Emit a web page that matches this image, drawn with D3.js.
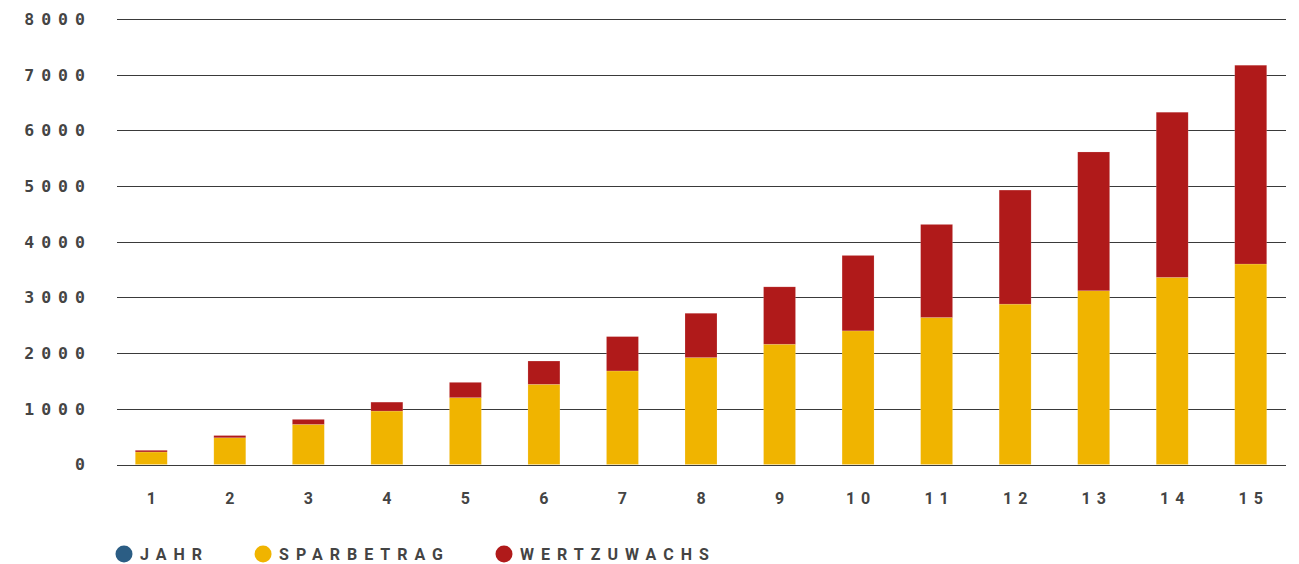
<!DOCTYPE html>
<html>
<head>
<meta charset="utf-8">
<script src="https://d3js.org/d3.v7.min.js"></script>
<style>
  body { margin: 0; background: #fff; }
</style>
</head>
<body>
<svg id="chart" width="1299" height="564"></svg>
<script>
// values
var years = ["1","2","3","4","5","6","7","8","9","10","11","12","13","14","15"];
var sparbetrag = [225, 480, 720, 960, 1200, 1440, 1680, 1920, 2160, 2400, 2640, 2880, 3120, 3360, 3600];
var wertzuwachs = [30, 40, 90, 160, 275, 418, 617, 796, 1030, 1354, 1671, 2048, 2492, 2966, 3570];
var yTicks = [0, 1000, 2000, 3000, 4000, 5000, 6000, 7000, 8000];
var legendItems = ["JAHR", "SPARBETRAG", "WERTZUWACHS"];
var legendColors = ["#2b5d84", "#f0b400", "#b01a1a"];

var svg = d3.select("#chart");

var x = d3.scaleBand().domain(years).range([112, 1290]).paddingInner(0.593).paddingOuter(0.2965);
var y = d3.scaleLinear().domain([0, 8000]).range([464.5, 19]);

// gridlines
svg.append("g").selectAll("line")
  .data(yTicks).enter().append("line")
  .attr("x1", 117).attr("x2", 1286)
  .attr("y1", function(d) { return Math.round(y(d)) + 0.5; })
  .attr("y2", function(d) { return Math.round(y(d)) + 0.5; })
  .attr("stroke", "#3a3a3a").attr("stroke-width", 1);

// y labels
svg.append("g").selectAll("text")
  .data(yTicks).enter().append("text")
  .attr("x", 92).attr("y", function(d) { return y(d); })
  .attr("dy", "0.36em")
  .attr("text-anchor", "end")
  .style("font-family", "'DejaVu Sans Mono', monospace")
  .style("font-weight", "bold")
  .style("font-size", "16.5px")
  .style("letter-spacing", "7px")
  .style("fill", "#444")
  .text(function(d) { return d; });

// stacked bars
var rows = years.map(function(yr, i) {
  return { jahr: yr, sparbetrag: sparbetrag[i], wertzuwachs: wertzuwachs[i] };
});
var stack = d3.stack().keys(["sparbetrag", "wertzuwachs"])(rows);
var fills = { sparbetrag: legendColors[1], wertzuwachs: legendColors[2] };

svg.append("g").selectAll("g")
  .data(stack).enter().append("g")
  .attr("fill", function(s) { return fills[s.key]; })
  .selectAll("rect")
  .data(function(s) { return s; }).enter().append("rect")
  .attr("x", function(d) { return x(d.data.jahr); })
  .attr("width", x.bandwidth())
  .attr("y", function(d) { return y(d[1]); })
  .attr("height", function(d) { return y(d[0]) - y(d[1]); })
  .attr("stroke", "rgba(255,255,255,0.25)")
  .attr("stroke-width", 0.6);

// x labels
svg.append("g").selectAll("text")
  .data(years).enter().append("text")
  .attr("x", function(d) { return x(d) + x.bandwidth() / 2 + 3; })
  .attr("y", 504)
  .attr("text-anchor", "middle")
  .style("font-family", "Roboto, sans-serif")
  .style("font-weight", "bold")
  .style("font-size", "16px")
  .style("letter-spacing", "6px")
  .style("fill", "#444")
  .text(function(d) { return d; });

// legend
var lg = svg.append("g");
var lx = 124;
legendItems.forEach(function(name, i) {
  lg.append("circle").attr("cx", lx).attr("cy", 554).attr("r", 8.5).attr("fill", legendColors[i]);
  var t = lg.append("text")
    .attr("x", lx + 16).attr("y", 560)
    .style("font-family", "Roboto, sans-serif")
    .style("font-weight", "bold")
    .style("font-size", "16px")
    .style("letter-spacing", "7px")
    .style("fill", "#444")
    .text(name);
  lx = lx + 16 + t.node().getComputedTextLength() + 54;
});
</script>
</body>
</html>
